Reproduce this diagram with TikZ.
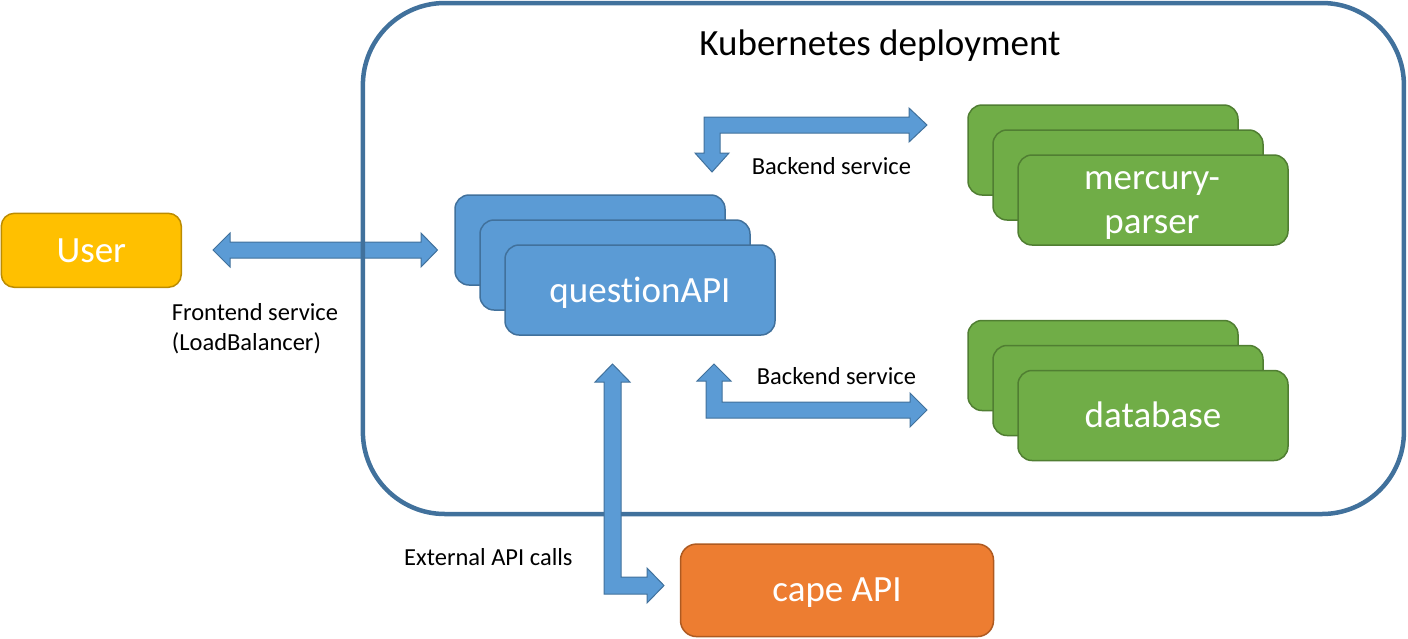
\documentclass[tikz,border=0pt]{standalone}
\usepackage{fontspec}
\setmainfont{Carlito}[Ligatures={NoCommon}]
\usetikzlibrary{calc}
\definecolor{blueF}{HTML}{5B9BD5}
\definecolor{blueD}{HTML}{41719C}
\definecolor{greenF}{HTML}{70AD47}
\definecolor{greenD}{HTML}{507E32}
\definecolor{orangeF}{HTML}{ED7D31}
\definecolor{orangeD}{HTML}{AE5A21}
\definecolor{yellowF}{HTML}{FFC000}
\definecolor{yellowD}{HTML}{BC8C00}
\tikzset{
  box/.style={rounded corners=14pt, line width=1.5pt, inner sep=0pt, minimum width=270pt, minimum height=90pt},
  qbox/.style={box, fill=blueF, draw=blueD},
  gbox/.style={box, fill=greenF, draw=greenD},
  bigtxt/.style={text=white, font=\fontsize{37}{44}\selectfont, anchor=base, inner sep=0pt},
  smalltxt/.style={text=black, font=\fontsize{24.5}{30}\selectfont, anchor=base west, inner sep=0pt},
  barrow/.style={fill=blueF, draw=blueD, line width=1pt, line join=miter},
}
\begin{document}
\begin{tikzpicture}[x=1pt,y=-1pt]
\useasboundingbox (0,0) rectangle (1408,638);

% User
\node[draw=yellowD, fill=yellowF, rounded corners=13pt, line width=1.5pt, inner sep=0pt,
      minimum width=180pt, minimum height=74pt] (user) at (91.3,250.3) {};

% Frontend double arrow
\draw[barrow] (213,250) -- (230,233) -- (230,242) -- (421,242) -- (421,233) -- (437.5,250)
  -- (421,267) -- (421,258) -- (230,258) -- (230,267) -- cycle;

% Kubernetes deployment box
\node[draw=blueD, line width=4.5pt, rounded corners=82pt, inner sep=0pt,
      minimum width=1041pt, minimum height=511pt] (k8s) at (883.4,258.5) {};
\node[anchor=base, inner sep=0pt, font=\fontsize{37}{44}\selectfont] (title) at (880,55) {Kubernetes deployment};

% questionAPI stack
\node[qbox] (q1) at (590,240) {};
\node[qbox] (q2) at (615,265) {};
\node[qbox] (q3) at (640,290) {};
\node[bigtxt] (q3t) at ($(q3.center)+(0,12)$) {questionAPI};

% mercury-parser stack
\node[gbox] (m1) at (1103,150) {};
\node[gbox] (m2) at (1128,175) {};
\node[gbox] (m3) at (1153,200) {};
\node[bigtxt] (m3t1) at (1152,189) {mercury-};
\node[bigtxt] (m3t2) at (1152,233) {parser};

% database stack
\node[gbox] (d1) at (1103,365.5) {};
\node[gbox] (d2) at (1128,390.5) {};
\node[gbox] (d3) at (1153,415.5) {};
\node[bigtxt] (d3t) at ($(d3.center)+(0,11.5)$) {database};

% top bent arrow (backend service to mercury-parser)
\draw[barrow] (704,117) -- (909,117) -- (909,108) -- (927,125) -- (909,142) -- (909,133)
  -- (720,133) -- (720,153) -- (729,153) -- (712,172) -- (695,153) -- (704,153) -- cycle;

% bottom bent arrow (backend service to database)
\draw[barrow] (706,418) -- (706,381) -- (697,381) -- (714,364) -- (731,381) -- (722,381)
  -- (722,402) -- (910,402) -- (910,393) -- (927,410) -- (910,427) -- (910,418) -- cycle;

% external API arrow
\draw[barrow] (604,594) -- (604,382) -- (595,382) -- (612.5,364) -- (630,382) -- (621,382)
  -- (621,577) -- (647,577) -- (647,568) -- (664,585.5) -- (647,603) -- (647,594) -- cycle;

% cape API
\node[draw=orangeD, fill=orangeF, rounded corners=16pt, line width=1.5pt, inner sep=0pt,
      minimum width=313pt, minimum height=92.5pt] (cape) at (837,590.3) {};
\node[bigtxt] (capet) at ($(cape.center)+(0,11.4)$) {cape API};

\node[bigtxt] (usert) at ($(user.center)+(0,12.4)$) {User};

% small labels
\node[smalltxt] (fe1) at (171.7,320) {Frontend service};
\node[smalltxt] (fe2) at (171.7,350) {(LoadBalancer)};
\node[smalltxt] (bs1) at (751.7,174.5) {Backend service};
\node[smalltxt] (bs2) at (756.7,384) {Backend service};
\node[smalltxt] (ext) at (404,565) {External API calls};
\end{tikzpicture}
\end{document}
